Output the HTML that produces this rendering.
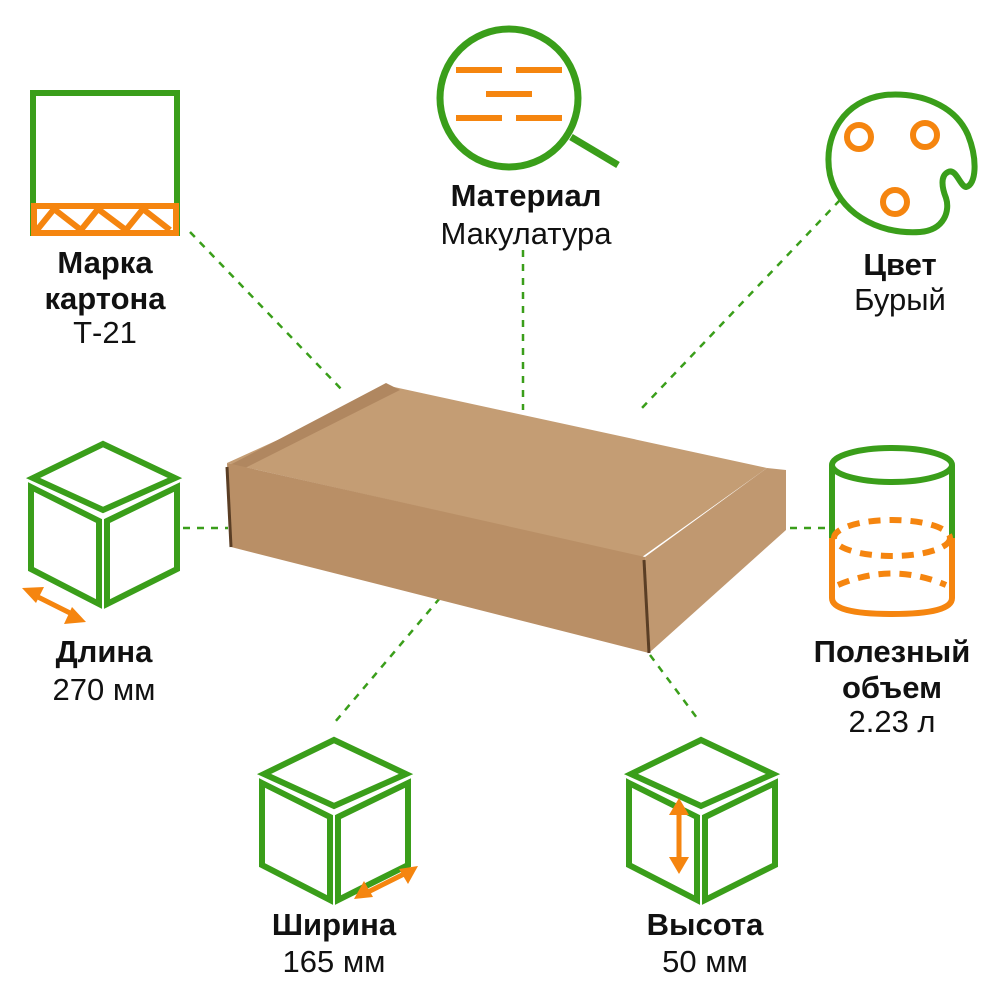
<!DOCTYPE html>
<html><head><meta charset="utf-8"><style>
html,body{margin:0;padding:0;background:#fff}
svg{display:block}
text{font-family:"Liberation Sans",Arial,sans-serif;text-anchor:middle;fill:#111}
.b{font-weight:bold;font-size:31px}
.n{font-size:31px}
</style></head><body>
<svg width="1000" height="1000" viewBox="0 0 1000 1000" xmlns="http://www.w3.org/2000/svg">
<g stroke="#3a9e1a" stroke-width="2.5" stroke-dasharray="7,7" fill="none">
<line x1="190" y1="232" x2="345" y2="393"/>
<line x1="523" y1="250" x2="523" y2="410"/>
<line x1="840" y1="200" x2="640" y2="410"/>
<line x1="183" y1="528" x2="228" y2="528"/>
<line x1="790" y1="528" x2="828" y2="528"/>
<line x1="440" y1="598" x2="335" y2="722"/>
<line x1="650" y1="655" x2="700" y2="722"/>
</g>
<!-- box -->
<polygon points="227,463 394,387 767,468 642,557" fill="#c49d74"/>
<polygon points="386,383 400,390 245,468 228,466" fill="#b08760"/>
<polygon points="227,463 645,557 649,653 231,547" fill="#b98f66"/>
<polygon points="645,557 767,468 786,470 786,530 649,653" fill="#c09870"/>
<line x1="227" y1="467" x2="231" y2="547" stroke="#5a3e25" stroke-width="3"/>
<line x1="644" y1="560" x2="649" y2="653" stroke="#5a3e25" stroke-width="3"/>
<!-- marka icon -->
<rect x="33" y="93" width="144" height="140" fill="none" stroke="#3a9e1a" stroke-width="6"/>
<rect x="31" y="203" width="148" height="33" fill="#f5850f"/>
<rect x="37" y="209" width="136" height="21" fill="#fff"/>
<polyline points="37,230 54,209 81,230 98,209 126,230 143,209 170,230" fill="none" stroke="#f5850f" stroke-width="6"/>
<!-- magnifier -->
<circle cx="509" cy="98" r="69" fill="none" stroke="#3a9e1a" stroke-width="7"/>
<line x1="571" y1="137" x2="618" y2="165" stroke="#3a9e1a" stroke-width="7"/>
<g stroke="#f5850f" stroke-width="6">
<line x1="456" y1="70" x2="502" y2="70"/><line x1="516" y1="70" x2="562" y2="70"/>
<line x1="486" y1="94" x2="532" y2="94"/>
<line x1="456" y1="118" x2="502" y2="118"/><line x1="516" y1="118" x2="562" y2="118"/>
</g>
<!-- palette -->
<path d="M948,172 C956,168 960,186 966,187 C976,185 978,160 968,135 C955,105 920,92 885,95 C845,100 822,135 830,175 C838,210 875,235 920,232 C945,230 950,210 946,198 C942,188 940,176 948,172 Z" fill="none" stroke="#3a9e1a" stroke-width="6"/>
<g fill="none" stroke="#f5850f" stroke-width="6">
<circle cx="859" cy="137" r="12"/><circle cx="925" cy="135" r="12"/><circle cx="895" cy="202" r="12"/>
</g>
<!-- cubes -->
<g id="cube" fill="none" stroke="#3a9e1a" stroke-width="6" stroke-linejoin="miter">
<polygon points="103,444 175,478 103,510 33,478"/>
<polygon points="31,487 99,521 99,604 31,569"/>
<polygon points="107,521 177,487 177,569 107,604"/>
</g>
<use href="#cube" x="231" y="296"/>
<use href="#cube" x="598" y="296"/>
<!-- arrows -->
<g stroke="#f5850f" stroke-width="5" fill="#f5850f">
<line x1="32" y1="594" x2="76" y2="616"/>
<polygon points="22,588 44,587 36,603" stroke="none"/>
<polygon points="86,622 64,624 72,607" stroke="none"/>
<line x1="364" y1="894" x2="408" y2="872"/>
<polygon points="354,899 364,881 373,897" stroke="none"/>
<polygon points="418,866 408,884 399,869" stroke="none"/>
<line x1="679" y1="810" x2="679" y2="862"/>
<polygon points="679,798 669,815 689,815" stroke="none"/>
<polygon points="679,874 669,857 689,857" stroke="none"/>
</g>
<!-- cylinder -->
<path d="M832,465 L832,538 M952,465 L952,538" stroke="#3a9e1a" stroke-width="6"/>
<ellipse cx="892" cy="465" rx="60" ry="17" fill="none" stroke="#3a9e1a" stroke-width="6"/>
<path d="M832,538 L832,598 Q832,614 892,614 Q952,614 952,598 L952,538" fill="none" stroke="#f5850f" stroke-width="6"/>
<ellipse cx="892" cy="538" rx="58" ry="18" fill="none" stroke="#f5850f" stroke-width="6" stroke-dasharray="12,9"/>
<path d="M838,585 Q892,562 946,585" fill="none" stroke="#f5850f" stroke-width="6" stroke-dasharray="12,9"/>
<!-- text -->
<text class="b" x="105" y="273">Марка</text>
<text class="b" x="105" y="309">картона</text>
<text class="n" x="105" y="343">Т-21</text>
<text class="b" x="526" y="206">Материал</text>
<text class="n" x="526" y="244">Макулатура</text>
<text class="b" x="900" y="275">Цвет</text>
<text class="n" x="900" y="310">Бурый</text>
<text class="b" x="104" y="662">Длина</text>
<text class="n" x="104" y="700">270 мм</text>
<text class="b" x="892" y="662">Полезный</text>
<text class="b" x="892" y="698">объем</text>
<text class="n" x="892" y="732">2.23 л</text>
<text class="b" x="334" y="935">Ширина</text>
<text class="n" x="334" y="972">165 мм</text>
<text class="b" x="705" y="935">Высота</text>
<text class="n" x="705" y="972">50 мм</text>
</svg>
</body></html>
